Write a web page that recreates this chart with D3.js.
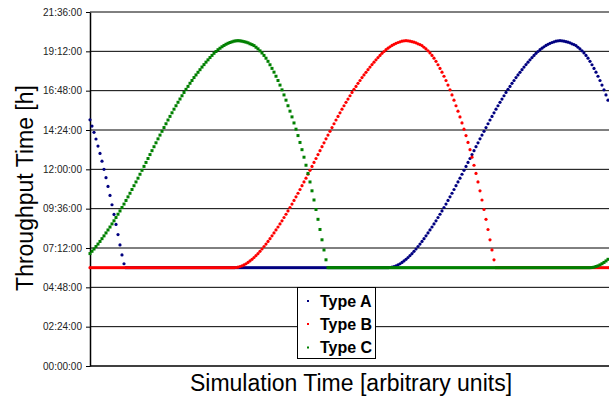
<!DOCTYPE html>
<html>
<head>
<meta charset="utf-8">
<script src="https://cdn.jsdelivr.net/npm/d3@7"></script>
<style>
  html, body { margin: 0; padding: 0; background: #fff; }
  svg { display: block; font-family: "Liberation Sans", Arial, sans-serif; }
</style>
</head>
<body>
<div id="chart"></div>
<script>
// y ticks, in hours, with the labels the chart prints
var tickHours = [0, 2.4, 4.8, 7.2, 9.6, 12, 14.4, 16.8, 19.2, 21.6];
var tickLabels = ["00:00:00", "02:24:00", "04:48:00", "07:12:00", "09:36:00",
                  "12:00:00", "14:24:00", "16:48:00", "19:12:00", "21:36:00"];

var seriesNames = ["Type A", "Type B", "Type C"];

// throughput time [h] per simulation step
var typeA = [
  15.02, 14.64, 14.26, 13.85, 13.42, 12.97, 12.50, 12.00, 11.49, 10.96,
  10.41, 9.84, 9.25, 8.64, 8.02, 7.39, 6.78, 6.24,
  6,6,6,6,6,6,6,6,6,6, 6,6,6,6,6,6,6,6,6,6, 6,6,6,6,6,6,6,6,6,6, 6,6,6,6,6,6,6,6,6,6,
  6,6,6,6,6,6,6,6,6,6, 6,6,6,6,6,6,6,6,6,6, 6,6,6,6,6,6,6,6,6,6, 6,6,6,6,6,6,6,6,6,6,
  6,6,6,6,6,6,6,6,6,6, 6,6,6,6,6,6,6,6,6,6, 6,6,6,6,6,6,6,6,6,6, 6,6,6,6,6,6,6,6,6,6,
  6,6,6,6,6,6,6,6,6,6, 6,6,
  6.01, 6.03, 6.07, 6.11, 6.17, 6.24, 6.32, 6.41, 6.51, 6.62,
  6.74, 6.86, 7.00, 7.14, 7.29, 7.44, 7.60, 7.77, 7.94, 8.12,
  8.30, 8.48, 8.67, 8.86, 9.06, 9.26, 9.46, 9.67, 9.88, 10.10,
  10.32, 10.54, 10.77, 11.00, 11.23, 11.46, 11.70, 11.94, 12.18, 12.42,
  12.66, 12.90, 13.14, 13.38, 13.62, 13.86, 14.09, 14.32, 14.55, 14.78,
  15.01, 15.23, 15.45, 15.67, 15.88, 16.09, 16.29, 16.49, 16.69, 16.88,
  17.06, 17.25, 17.42, 17.60, 17.76, 17.92, 18.08, 18.24, 18.39, 18.54,
  18.68, 18.82, 18.95, 19.08, 19.19, 19.30, 19.39, 19.48, 19.56, 19.63,
  19.69, 19.74, 19.78, 19.82, 19.84, 19.85,
  19.84, 19.82, 19.79, 19.76, 19.72, 19.66, 19.61, 19.55, 19.45, 19.35,
  19.23, 19.10, 18.95, 18.78, 18.59, 18.38, 18.16, 17.93, 17.68, 17.42,
  17.14, 16.85, 16.54, 16.22
];

var typeB = [
  6,6,6,6,6,6,6,6,6,6, 6,6,6,6,6,6,6,6,6,6, 6,6,6,6,6,6,6,6,6,6, 6,6,6,6,6,6,6,6,6,6,
  6,6,6,6,6,6,6,6,6,6, 6,6,6,6,6,6,6,6,6,6, 6,6,6,6,6,6,6,6,6,6, 6,6,6,
  6.01, 6.03, 6.07, 6.11, 6.17, 6.24, 6.32, 6.41, 6.51, 6.62,
  6.74, 6.86, 7.00, 7.14, 7.29, 7.44, 7.60, 7.77, 7.94, 8.12,
  8.30, 8.48, 8.67, 8.86, 9.06, 9.26, 9.46, 9.67, 9.88, 10.10,
  10.32, 10.54, 10.77, 11.00, 11.23, 11.46, 11.70, 11.94, 12.18, 12.42,
  12.66, 12.90, 13.14, 13.38, 13.62, 13.86, 14.09, 14.32, 14.55, 14.78,
  15.01, 15.23, 15.45, 15.67, 15.88, 16.09, 16.29, 16.49, 16.69, 16.88,
  17.06, 17.25, 17.42, 17.60, 17.76, 17.92, 18.08, 18.24, 18.39, 18.54,
  18.68, 18.82, 18.95, 19.08, 19.19, 19.30, 19.39, 19.48, 19.56, 19.63,
  19.69, 19.74, 19.78, 19.82, 19.84, 19.85,
  19.84, 19.82, 19.79, 19.76, 19.72, 19.66, 19.61, 19.55, 19.45, 19.35,
  19.23, 19.10, 18.95, 18.78, 18.59, 18.38, 18.16, 17.93, 17.68, 17.42,
  17.14, 16.85, 16.54, 16.22, 15.88, 15.55, 15.20, 14.83, 14.45, 14.06,
  13.64, 13.20, 12.74, 12.25, 11.75, 11.23, 10.69, 10.13, 9.55, 8.95,
  8.33, 7.70, 7.08, 6.48, 6.00,
  6,6,6,6,6,6,6,6,6,6, 6,6,6,6,6,6,6,6,6,6, 6,6,6,6,6,6,6,6,6,6, 6,6,6,6,6,6,6,6,6,6,
  6,6,6,6,6,6,6,6,6,6, 6,6,6,6,6,6
];

var typeC = [
  6.86, 7.00, 7.14, 7.29, 7.44, 7.60, 7.77, 7.94, 8.12,
  8.30, 8.48, 8.67, 8.86, 9.06, 9.26, 9.46, 9.67, 9.88, 10.10,
  10.32, 10.54, 10.77, 11.00, 11.23, 11.46, 11.70, 11.94, 12.18, 12.42,
  12.66, 12.90, 13.14, 13.38, 13.62, 13.86, 14.09, 14.32, 14.55, 14.78,
  15.01, 15.23, 15.45, 15.67, 15.88, 16.09, 16.29, 16.49, 16.69, 16.88,
  17.06, 17.25, 17.42, 17.60, 17.76, 17.92, 18.08, 18.24, 18.39, 18.54,
  18.68, 18.82, 18.95, 19.08, 19.19, 19.30, 19.39, 19.48, 19.56, 19.63,
  19.69, 19.74, 19.78, 19.82, 19.84, 19.85,
  19.84, 19.82, 19.79, 19.76, 19.72, 19.66, 19.61, 19.55, 19.45, 19.35,
  19.23, 19.10, 18.95, 18.78, 18.59, 18.38, 18.16, 17.93, 17.68, 17.42,
  17.14, 16.85, 16.54, 16.22, 15.88, 15.55, 15.20, 14.83, 14.45, 14.06,
  13.64, 13.20, 12.74, 12.25, 11.75, 11.23, 10.69, 10.13, 9.55, 8.95,
  8.33, 7.70, 7.08, 6.48, 6.00,
  6,6,6,6,6,6,6,6,6,6, 6,6,6,6,6,6,6,6,6,6, 6,6,6,6,6,6,6,6,6,6, 6,6,6,6,6,6,6,6,6,6,
  6,6,6,6,6,6,6,6,6,6, 6,6,6,6,6,6,6,6,6,6, 6,6,6,6,6,6,6,6,6,6, 6,6,6,6,6,6,6,6,6,6,
  6,6,6,6,6,6,6,6,6,6, 6,6,6,6,6,6,6,6,6,6, 6,6,6,6,6,6,6,6,6,6, 6,6,6,6,6,6,6,6,6,6,
  6,6,6,6,6,6,6,6,6,6, 6,
  6.01, 6.03, 6.07, 6.11, 6.17, 6.24, 6.32, 6.41, 6.51
];

var seriesColors = ["#000080", "#ff0000", "#008000"];

var width = 609, height = 398;
var svg = d3.select("#chart").append("svg")
  .attr("width", width)
  .attr("height", height);

var x = d3.scaleLinear().domain([0, 259]).range([90, 608]);
var y = d3.scaleLinear().domain([0, 21.6]).range([366, 12]);

// gridlines
svg.append("g").selectAll("line")
  .data(tickHours.slice(1))
  .enter().append("line")
  .attr("x1", 90).attr("x2", width)
  .attr("y1", function(d) { return y(d); })
  .attr("y2", function(d) { return y(d); })
  .attr("stroke", "#000")
  .attr("stroke-width", 1);

// y axis
var yAxis = d3.axisLeft(y)
  .tickValues(tickHours)
  .tickFormat(function(d, i) { return tickLabels[i]; })
  .tickSize(4)
  .tickSizeOuter(0)
  .tickPadding(4);

var gy = svg.append("g").attr("transform", "translate(90,0)").call(yAxis);
gy.select(".domain").attr("stroke", "#000").attr("stroke-width", 1.5);
gy.selectAll(".tick line").attr("stroke", "#000");
gy.selectAll(".tick text")
  .attr("font-size", 10)
  .attr("fill", "#222")
  .attr("font-family", "'Liberation Sans', Arial, sans-serif");

// x axis line
svg.append("line")
  .attr("x1", 90).attr("x2", width)
  .attr("y1", y(0)).attr("y2", y(0))
  .attr("stroke", "#000").attr("stroke-width", 1.5);

// markers, drawn A first so C ends on top
var allSeries = [typeA, typeB, typeC];
allSeries.forEach(function(values, s) {
  var g = svg.append("g").attr("fill", seriesColors[s]);
  if (s === 2) {
    g.selectAll("rect").data(values).enter().append("rect")
      .attr("x", function(d, i) { return x(i) - 1.5; })
      .attr("y", function(d) { return y(d) - 1.5; })
      .attr("width", 3).attr("height", 3);
  } else {
    g.selectAll("circle").data(values).enter().append("circle")
      .attr("cx", function(d, i) { return x(i); })
      .attr("cy", function(d) { return y(d); })
      .attr("r", 1.6);
  }
});

// legend
var legend = svg.append("g");
legend.append("rect")
  .attr("x", 297.5).attr("y", 287.5)
  .attr("width", 78).attr("height", 71)
  .attr("fill", "#fff").attr("stroke", "#000").attr("stroke-width", 1);

var legendRows = [301, 324, 347.5];
seriesNames.forEach(function(name, i) {
  legend.append("rect")
    .attr("x", 307).attr("y", legendRows[i] - 1)
    .attr("width", 2).attr("height", 2)
    .attr("fill", seriesColors[i]);
  legend.append("text")
    .attr("x", 320).attr("y", legendRows[i] + 5.5)
    .attr("font-size", 16)
    .attr("font-weight", "bold")
    .attr("fill", "#000")
    .text(name);
});

// axis titles
svg.append("text")
  .attr("transform", "translate(33,188) rotate(-90)")
  .attr("text-anchor", "middle")
  .attr("font-size", 23)
  .attr("fill", "#000")
  .text("Throughput Time [h]");

svg.append("text")
  .attr("x", 351).attr("y", 391)
  .attr("text-anchor", "middle")
  .attr("font-size", 23)
  .attr("fill", "#000")
  .text("Simulation Time [arbitrary units]");
</script>
</body>
</html>
